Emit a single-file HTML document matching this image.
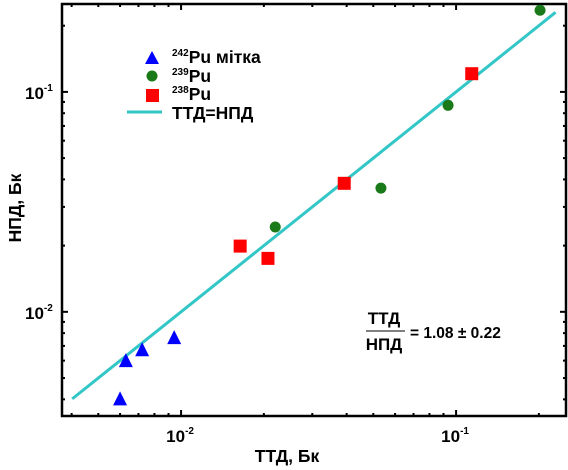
<!DOCTYPE html>
<html><head><meta charset="utf-8"><style>
body{margin:0;background:#fff;}
svg{display:block;font-family:"Liberation Sans",Arial,sans-serif;font-weight:bold;}
</style></head><body>
<svg id="chart" width="568" height="470" viewBox="0 0 568 470"></svg>
<script>
const pu242X=[0.0060,0.0063,0.00722,0.00944];
const pu242Y=[0.00404,0.00603,0.00676,0.00767];
const pu239X=[0.022,0.0533,0.0935,0.202];
const pu239Y=[0.0243,0.0365,0.0869,0.235];
const pu238X=[0.0164,0.0207,0.0392,0.114];
const pu238Y=[0.0199,0.0175,0.0384,0.121];
const lineRange=[0.00402,0.23];
const xTickExp=[-2,-1];
const yTickExp=[-2,-1];
const L=62,R=566,T=4,B=416;
const X0=0.00369,X1=0.251,Y0=0.00336,Y1=0.251;
const sx=v=>L+(Math.log10(v)-Math.log10(X0))/(Math.log10(X1)-Math.log10(X0))*(R-L);
const sy=v=>B-(Math.log10(v)-Math.log10(Y0))/(Math.log10(Y1)-Math.log10(Y0))*(B-T);
const NS='http://www.w3.org/2000/svg';
const svg=document.getElementById('chart');
function mk(tag,attrs,parent){const e=document.createElementNS(NS,tag);for(const k in attrs)e.setAttribute(k,attrs[k]);(parent||svg).appendChild(e);return e;}
const ticks=mk('g',{});


for(let e=-3;e<=0;e++){for(let m=1;m<10;m++){const v=m*Math.pow(10,e);const len=m===1?6:3;
 if(v>=X0&&v<=X1){const x=sx(v);mk('line',{x1:x,y1:B,x2:x,y2:B-len,stroke:'#000','stroke-width':2},ticks);mk('line',{x1:x,y1:T,x2:x,y2:T+len,stroke:'#000','stroke-width':2},ticks);}
 if(v>=Y0&&v<=Y1){const y=sy(v);mk('line',{x1:L,y1:y,x2:L+len,y2:y,stroke:'#000','stroke-width':2},ticks);mk('line',{x1:R,y1:y,x2:R-len,y2:y,stroke:'#000','stroke-width':2},ticks);}
}}
const frame=mk('rect',{x:L,y:T,width:R-L,height:B-T,fill:'none',stroke:'#000','stroke-width':2.5});


xTickExp.forEach(e=>{const t=mk('text',{x:sx(Math.pow(10,e))-1,y:442,'font-size':17,'text-anchor':'middle'});


t.innerHTML='10<tspan font-size="10" dy="-8">'+e+'</tspan>';});
yTickExp.forEach(e=>{const t=mk('text',{x:25,y:sy(Math.pow(10,e))+7,'font-size':17});


t.innerHTML='10<tspan font-size="10" dy="-8">'+e+'</tspan>';});
const ln=mk('line',{x1:sx(lineRange[0]),y1:sy(lineRange[0]),x2:sx(lineRange[1]),y2:sy(lineRange[1]),stroke:'#33c6c6','stroke-width':3});


pu242X.forEach((v,i)=>{const x=sx(v),y=sy(pu242Y[i]);const p=mk('polygon',{points:`${x-7},${y+7} ${x+7},${y+7} ${x},${y-7}`,fill:'#0000ff'});

});
pu239X.forEach((v,i)=>{const p=mk('circle',{cx:sx(v),cy:sy(pu239Y[i]),r:5.5,fill:'#1a7a1a'});

});
pu238X.forEach((v,i)=>{const p=mk('rect',{x:sx(v)-6.5,y:sy(pu238Y[i])-6.5,width:13,height:13,fill:'#ff0000'});

});
</script>
<svg style="position:absolute;left:0;top:0" width="568" height="470">
<g font-family="Liberation Sans, sans-serif" font-weight="bold">
<polygon points="145,64 159,64 152,51" fill="#0000ff"/>
<text x="172" y="63" font-size="17.5"><tspan font-size="10" dy="-7">242</tspan><tspan dy="7">Pu мітка</tspan></text>
<circle cx="152" cy="76" r="5.5" fill="#1a7a1a"/>
<text x="172" y="82" font-size="17.5"><tspan font-size="10" dy="-7">239</tspan><tspan dy="7">Pu</tspan></text>
<rect x="146" y="89" width="13" height="13" fill="#ff0000"/>
<text x="172" y="100" font-size="17.5"><tspan font-size="10" dy="-7">238</tspan><tspan dy="7">Pu</tspan></text>
<line x1="127" y1="112" x2="162" y2="112" stroke="#33c6c6" stroke-width="3"/>
<text x="172" y="119" font-size="17.5">ТТД=НПД</text>
</g>
<g font-family="Liberation Sans, sans-serif" font-weight="bold">
<text x="384" y="324" text-anchor="middle" font-size="17">ТТД</text>
<line x1="366" y1="331" x2="405" y2="331" stroke="#000" stroke-width="1"/>
<text x="384" y="350" text-anchor="middle" font-size="17">НПД</text>
<text x="410" y="338" font-size="15.5">= 1.08 ± 0.22</text>
</g>
<text x="287" y="462" text-anchor="middle" font-family="Liberation Sans, sans-serif" font-weight="bold" font-size="17.5">ТТД, Бк</text>
<text transform="translate(21,208) rotate(-90)" text-anchor="middle" font-family="Liberation Sans, sans-serif" font-weight="bold" font-size="17.5">НПД, Бк</text>
</svg>
</body></html>
